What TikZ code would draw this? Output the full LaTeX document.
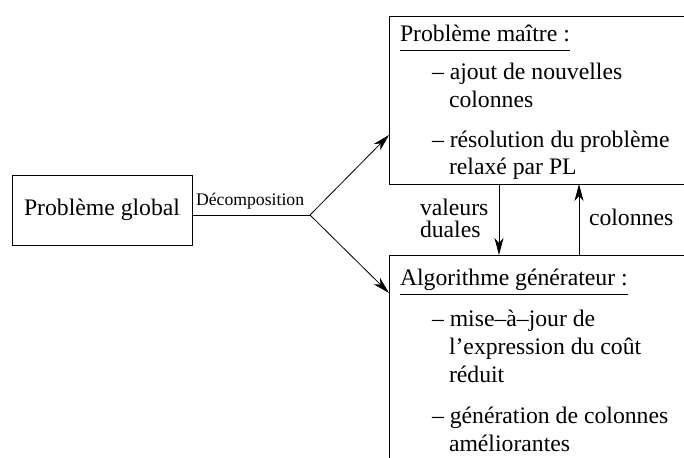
\documentclass[tikz,border=0pt]{standalone}
\usepackage{fontspec}
\setmainfont{Liberation Serif}
\usetikzlibrary{arrows.meta,calc}
\begin{document}
\begin{tikzpicture}[x=1pt,y=-1pt,
  every node/.style={inner sep=0pt, outer sep=0pt},
  txt/.style={anchor=base west, font=\fontsize{23.7}{28}\selectfont},
  smalltxt/.style={anchor=base west, font=\fontsize{17.7}{21}\selectfont},
  boxnode/.style={draw, line width=0.8pt, anchor=north west},
  conn/.style={line width=0.8pt},
  arr/.style={conn, -{Stealth[length=17pt,width=9pt,inset=5pt]}}]
\useasboundingbox (0,0) rectangle (684,457);
\clip (0,0) rectangle (684,457);

% boxes
\node[draw, line width=0.8pt, minimum width=180pt, minimum height=70pt,
      font=\fontsize{23.7}{28}\selectfont] (global) at (102,210) {Problème global};
\node[boxnode, minimum width=320pt, minimum height=168pt] (master) at (389,16) {};
\node[boxnode, minimum width=320pt, minimum height=230pt] (gen) at (389,255) {};

% decomposition connectors
\coordinate (j) at (310,215);
\coordinate (mIn) at (389,135);
\coordinate (gIn) at (389,293);
\draw[conn] (j -| global.east) -- (j);
\draw[arr] (j) -- (mIn);
\draw[arr] (j) -- (gIn);
\node[smalltxt] (dec) at (196,205) {Décomposition};

% vertical arrows
\coordinate (dx) at (499,0);
\coordinate (ux) at (579,0);
\draw[arr] (master.south -| dx) -- (gen.north -| dx);
\draw[arr] (gen.north -| ux) -- (master.south -| ux);
\node[anchor=base west, align=left, font=\fontsize{23.7}{22.5}\selectfont] (val) at (420,237.5) {valeurs\\duales};
\node[txt] (col) at (589,225) {colonnes};

% master content
\node[txt] (mh) at (400,42) {Problème maître :};
\draw[conn] ([yshift=-8pt]mh.base west) -- ([yshift=-8pt]mh.base east);
\node[txt] (m1) at (432,79.5) {– ajout de nouvelles};
\node[txt] (m1b) at (449,107.5) {colonnes};
\node[txt] (m2) at (432,147) {– résolution du problème};
\node[txt] (m2b) at (449,175) {relaxé par PL};

% generator content
\node[txt] (gh) at (400,285) {Algorithme générateur :};
\draw[conn] ([yshift=-9pt]gh.base west) -- ([yshift=-9pt]gh.base east);
\node[txt] (g1) at (432,326) {– mise–à–jour de};
\node[txt] (g1b) at (449,354) {l'expression du coût};
\node[txt] (g1c) at (449,382) {réduit};
\node[txt] (g2) at (432,423) {– génération de colonnes};
\node[txt] (g2b) at (449,451) {améliorantes};
\end{tikzpicture}
\end{document}
